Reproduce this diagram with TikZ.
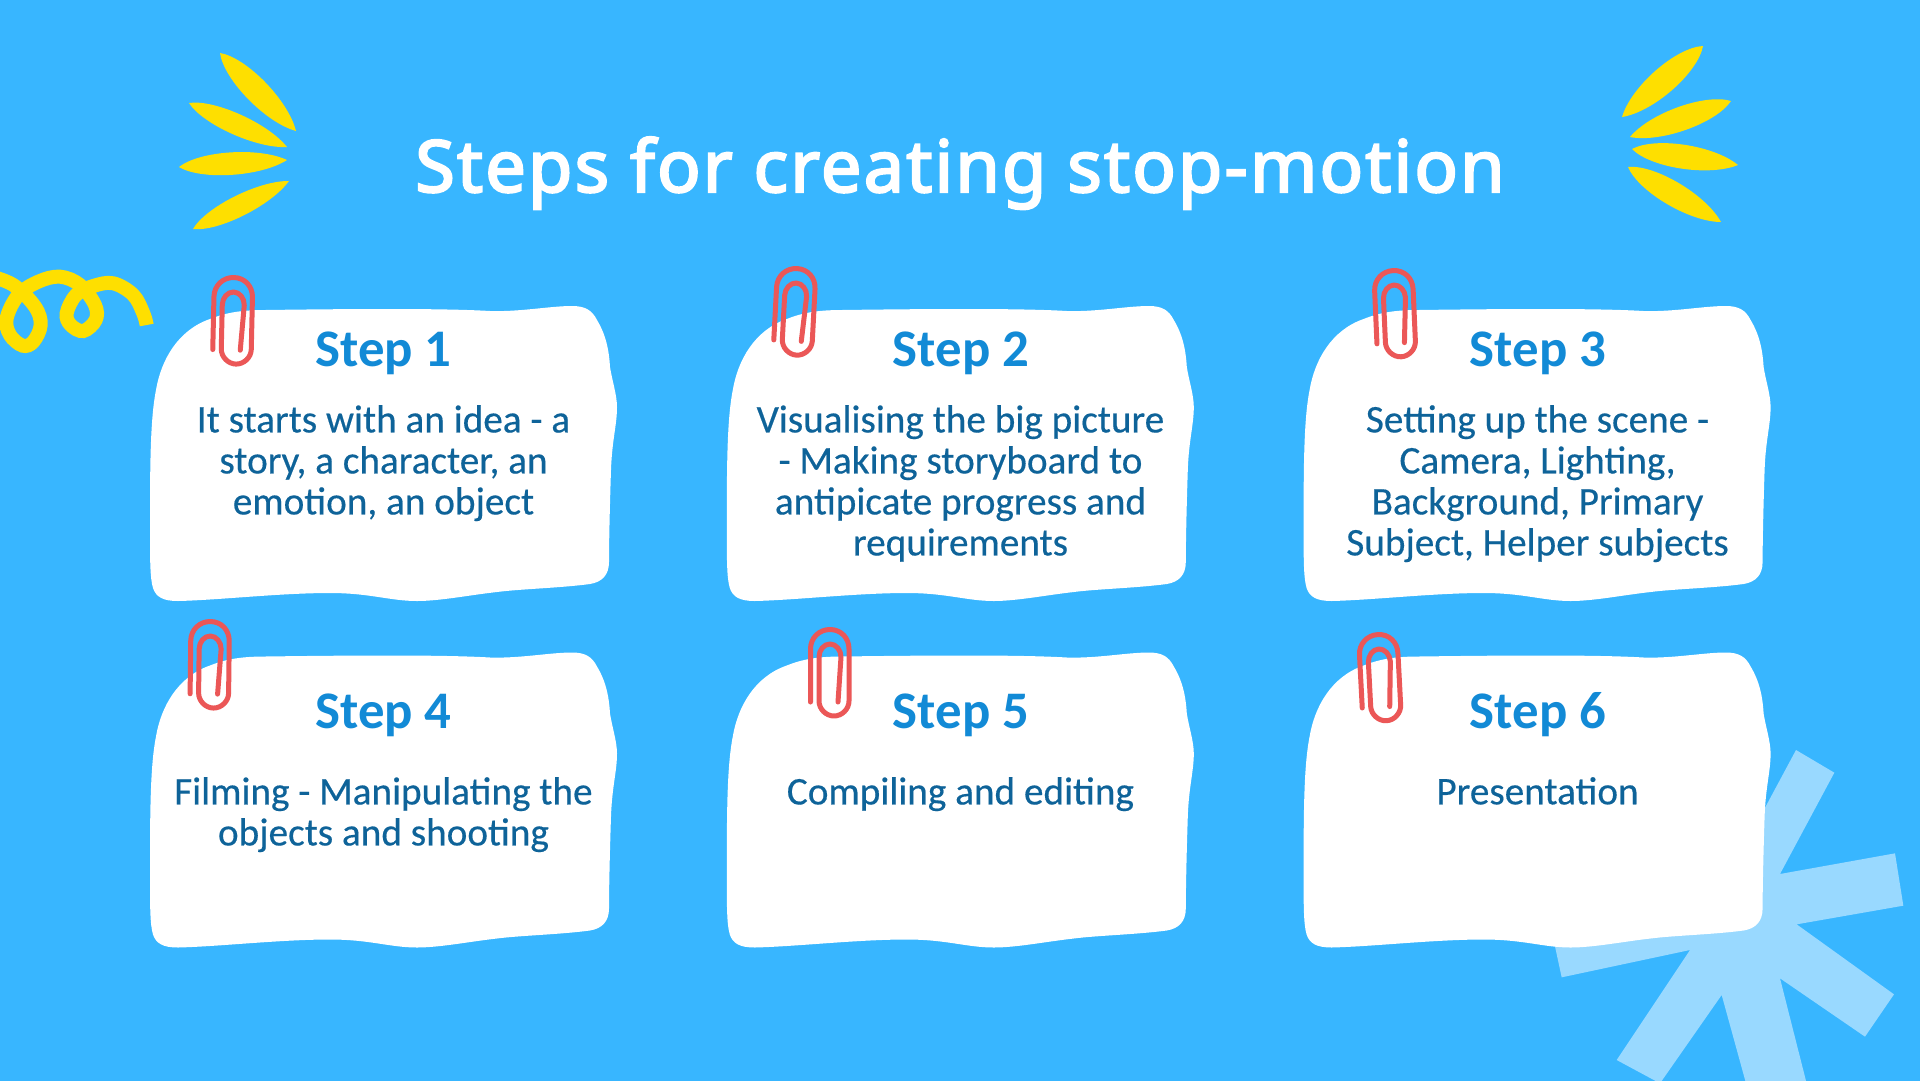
\documentclass[tikz,border=0pt]{standalone}
\usepackage{fontspec}
\usetikzlibrary{calc}
\setmainfont{Carlito}
\newfontfamily\headingfont[LetterSpace=3.1,FakeBold=3]{Noto Sans}
\newfontfamily\bodyfont[FakeBold=0.4]{Carlito}
\definecolor{skybg}{HTML}{38B6FF}
\definecolor{starblue}{HTML}{99D9FF}
\definecolor{sunyellow}{HTML}{FEDF00}
\definecolor{clipred}{HTML}{EB5757}
\definecolor{stepblue}{HTML}{128AD6}
\definecolor{bodyblue}{HTML}{0E6399}
\tikzset{
  paper/.style={fill=white,draw=none},
  clipwire/.style={draw=clipred,line width=5pt,line cap=round,line join=round},
  leafshape/.style={fill=sunyellow,draw=none},
  steptitle/.style={font=\fontsize{52.8}{53}\selectfont\bfseries,text=stepblue,anchor=base,inner sep=0pt},
  stepbody/.style={font=\fontsize{39.2}{41}\selectfont\bodyfont,text=bodyblue,anchor=base,inner sep=0pt,align=center},
}
% torn-paper card, outline given relative to the card's top-left reference point
\newcommand{\papercard}[2]{%
  \fill[paper,shift={(#1,#2)}]
    (150,530) .. controls (150,470) and (150,420) .. (156,390)
    .. controls (161,360) and (178,330) .. (210,319)
    .. controls (225,313) and (240,310) .. (265,310)
    .. controls (340,309) and (440,308) .. (490,311)
    .. controls (520,312) and (550,306) .. (572,306)
    .. controls (585,306) and (592,310) .. (597,320)
    .. controls (606,335) and (609,350) .. (610,367)
    .. controls (612,380) and (617,395) .. (617,407)
    .. controls (617,425) and (612,440) .. (611,470)
    .. controls (610,500) and (609,540) .. (609,562)
    .. controls (609,575) and (602,582) .. (590,584)
    .. controls (560,588) and (520,589) .. (497,592)
    .. controls (470,595) and (440,601) .. (417,601)
    .. controls (390,601) and (370,593) .. (330,593)
    .. controls (280,593) and (220,600) .. (178,601)
    .. controls (163,601) and (156,597) .. (153,588)
    .. controls (150,578) and (150,560) .. (150,530) -- cycle;
}
% paperclip wire drawn around its centre
\newcommand{\paperclip}[3]{%
  \draw[clipwire,shift={(#1,#2)},rotate=#3]
    (-19.5,33) -- (-19.5,-20) .. controls (-19.5,-31) and (-11,-39.5) .. (0,-39.5)
    .. controls (11,-39.5) and (19,-31) .. (19,-20) -- (19,32)
    .. controls (19,40) and (12,47) .. (4,47) .. controls (-4,47) and (-11,40) .. (-11,32)
    -- (-11,-12) .. controls (-11,-19) and (-6,-25) .. (0,-25)
    .. controls (6,-25) and (11,-19) .. (11,-12) -- (8,33);
}
% lens-shaped leaf between two tips, with bulge control d
\newcommand{\leaf}[5]{%
  \fill[leafshape] (#1,#2) coordinate (la) (#3,#4) coordinate (lb)
    (la) .. controls ($(la)!.2!(lb)!#5 pt!90:(lb)$) and ($(la)!.75!(lb)!#5 pt!90:(lb)$) .. (lb)
    .. controls ($(la)!.75!(lb)!#5 pt!-90:(lb)$) and ($(la)!.2!(lb)!#5 pt!-90:(lb)$) .. (la) -- cycle;
}
\begin{document}
\begin{tikzpicture}[x=1pt,y=-1pt]
\useasboundingbox (0,0) rectangle (1920,1080);
\fill[skybg] (-5,-5) rectangle (1925,1085);

% pale asterisk behind the last card
\fill[starblue,shift={(1520,730)},scale=0.33333]
  (828,60) -- (943,128) -- (780,432) -- (1125,370) -- (1150,527) -- (830,583)
  -- (1122,793) -- (1035,920) -- (780,745) -- (870,1100) -- (689,1100) -- (605,795)
  -- (420,1060) -- (290,990) -- (510,660) -- (125,742) -- (103,640) -- (579,524) -- cycle;

% cards
\foreach \dx/\dy in {0/0,576.8/0,1153.6/0,0/346.5,576.8/346.5,1153.6/346.5}{\papercard{\dx}{\dy}}

% yellow squiggle at the left edge
\draw[sunyellow,line width=14pt,line cap=butt,shift={(0,30)},scale=0.33333]
  plot[smooth,tension=0.6] coordinates {
  (-40,735) (40,765) (105,830) (122,885) (100,935) (68,947) (30,915) (20,865) (55,795)
  (115,755) (180,740) (240,765) (285,825) (287,870) (250,903) (212,885) (200,850)
  (228,795) (280,768) (340,760) (400,795) (430,850) (440,885)};

% leaves, left and right of the heading
\leaf{220}{53}{296}{131}{16}
\leaf{189}{103}{287}{147}{14}
\leaf{179}{167}{287}{160}{15}
\leaf{193}{229}{289}{181}{14}
\leaf{1703}{46}{1622}{117}{17}
\leaf{1731}{101}{1630}{137}{16}
\leaf{1632}{149}{1738}{165}{16}
\leaf{1628}{167}{1721}{222}{16}

% clips
\paperclip{233}{317}{-1.3}
\paperclip{795}{308}{-3}
\paperclip{1395}{310}{2.5}
\paperclip{210}{661}{-0.7}
\paperclip{830}{669}{0}
\paperclip{1380}{674}{3}

% heading
\node[text=white,anchor=base,inner sep=0pt,font=\fontsize{72}{72}\selectfont\headingfont]
  (heading) at (960,192) {Steps for creating stop-motion};

% step titles
\node[steptitle] (t1) at (383.5,366) {Step 1};
\node[steptitle] (t2) at (961,366) {Step 2};
\node[steptitle] (t3) at (1538,366) {Step 3};
\node[steptitle] (t4) at (383.5,728) {Step 4};
\node[steptitle] (t5) at (961,728) {Step 5};
\node[steptitle] (t6) at (1538,728) {Step 6};

% step descriptions
\node[stepbody,anchor=north] (b1) at (383.5,405) {It starts with an idea - a\\story, a character, an\\emotion, an object};
\node[stepbody,anchor=north] (b2) at (960.5,405) {Visualising the big picture\\- Making storyboard to\\antipicate progress and\\requirements};
\node[stepbody,anchor=north] (b3) at (1537.5,405) {Setting up the scene -\\Camera, Lighting,\\Background, Primary\\Subject, Helper subjects};
\node[stepbody,anchor=north] (b4) at (383.5,777) {Filming - Manipulating the\\objects and shooting};
\node[stepbody,anchor=north] (b5) at (960.5,777) {Compiling and editing};
\node[stepbody,anchor=north] (b6) at (1537.5,777) {Presentation};
\end{tikzpicture}
\end{document}
